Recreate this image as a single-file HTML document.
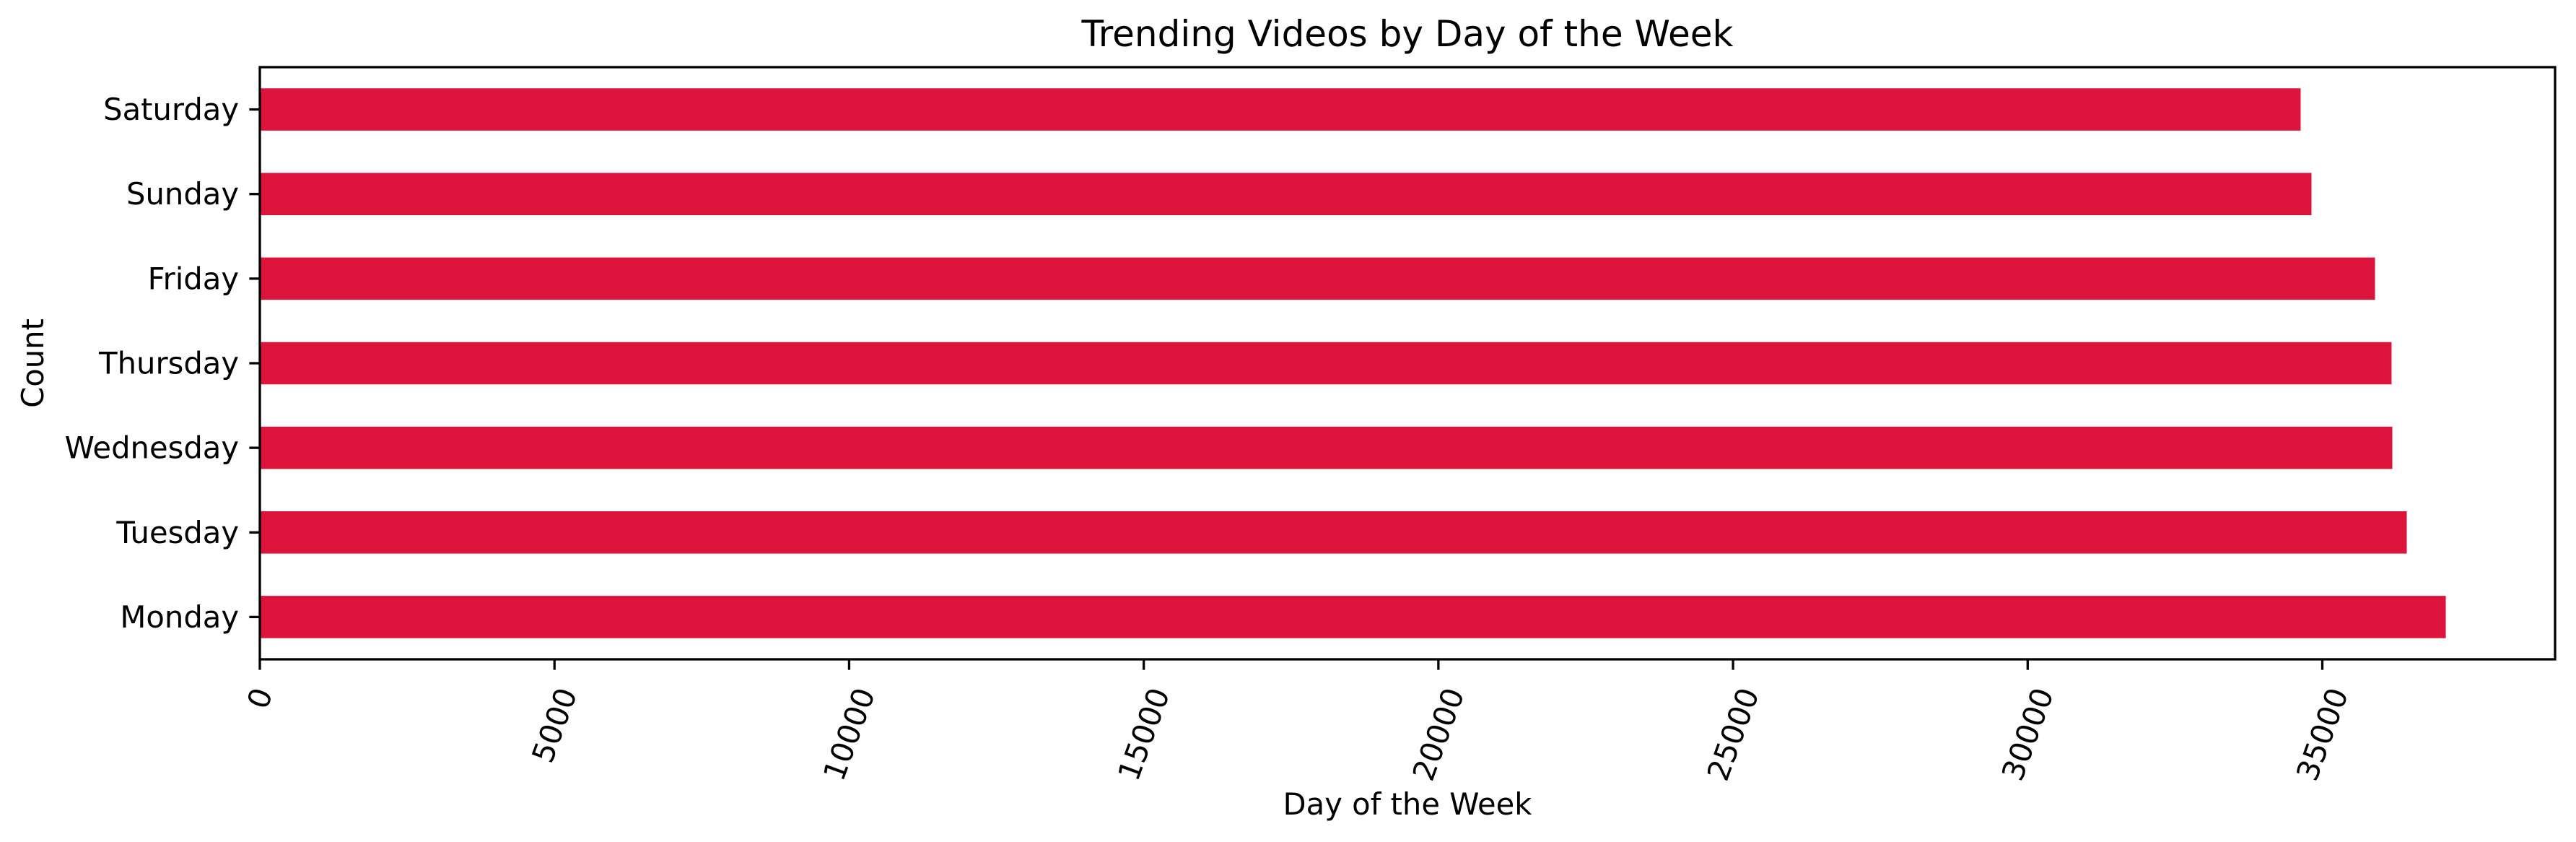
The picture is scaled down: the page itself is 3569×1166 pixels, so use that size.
<!DOCTYPE html>
<html><head><meta charset="utf-8"><style>
html,body{margin:0;padding:0;background:#fff}
svg{display:block;font-family:"DejaVu Sans","Liberation Sans",sans-serif}
</style></head><body>
<svg id="chart" width="3569" height="1166" viewBox="0 0 3569 1166" xmlns="http://www.w3.org/2000/svg">
<rect width="3569" height="1166" fill="#fff"/>
<text x="1950" y="64" font-size="50" text-anchor="middle">Trending Videos by Day of the Week</text>
<text x="1950" y="1128" font-size="41.7" text-anchor="middle">Day of the Week</text>
<text transform="translate(60,503) rotate(-90)" font-size="41.7" text-anchor="middle">Count</text>
<g id="bars"></g>
<g id="yticks"></g>
<g id="xticks"></g>
<rect x="360" y="93" width="3180" height="820" fill="none" stroke="#000" stroke-width="3.3"/>
</svg>
<script>
const categories = ["Monday","Tuesday","Wednesday","Thursday","Friday","Sunday","Saturday"];
const counts = [37095, 36433, 36188, 36175, 35894, 34816, 34632];
const xTicks = [0, 5000, 10000, 15000, 20000, 25000, 30000, 35000];

const NS = "http://www.w3.org/2000/svg";
const L = 360, R = 3540, T = 93, B = 913;
const xMax = Math.max(...counts) * 1.05;
const x = v => L + v / xMax * (R - L);
const n = categories.length;
const band = (B - T) / n;
const y = i => B - (i + 0.5) * band;

function mk(tag, attrs, parent) {
  const e = document.createElementNS(NS, tag);
  for (const k in attrs) e.setAttribute(k, attrs[k]);
  parent.appendChild(e);
  return e;
}
const gb = document.getElementById("bars");
const gy = document.getElementById("yticks");
const gx = document.getElementById("xticks");

categories.forEach((c, i) => {
  const r = mk("rect", {x: L, y: y(i) - band * 0.25, width: x(counts[i]) - L, height: band * 0.5, fill: "#dc143c"}, gb);
  
  
  const tk = mk("line", {x1: L - 14.6, x2: L, y1: y(i), y2: y(i), stroke: "#000", "stroke-width": 3.3}, gy);
  
  
  const t = mk("text", {x: L - 29, y: y(i), "font-size": 41.7, "text-anchor": "end", "dominant-baseline": "central"}, gy);
  t.textContent = c;
  
  
});

xTicks.forEach(v => {
  const px = x(v);
  const tk = mk("line", {x1: px, x2: px, y1: B, y2: B + 14.6, stroke: "#000", "stroke-width": 3.3}, gx);
  
  
  const t = mk("text", {x: 0, y: 0, "font-size": 41.7, "text-anchor": "middle", "dominant-baseline": "central"}, gx);
  t.textContent = String(v);
  
  
  const w = t.getComputedTextLength();
  const h = 32;
  const a = 70 * Math.PI / 180;
  const bh = w * Math.sin(a) + h * Math.cos(a);
  const cy = B + 36 + bh / 2;
  t.setAttribute("transform", `translate(${px},${cy}) rotate(-70)`);
});
</script>
</body></html>
